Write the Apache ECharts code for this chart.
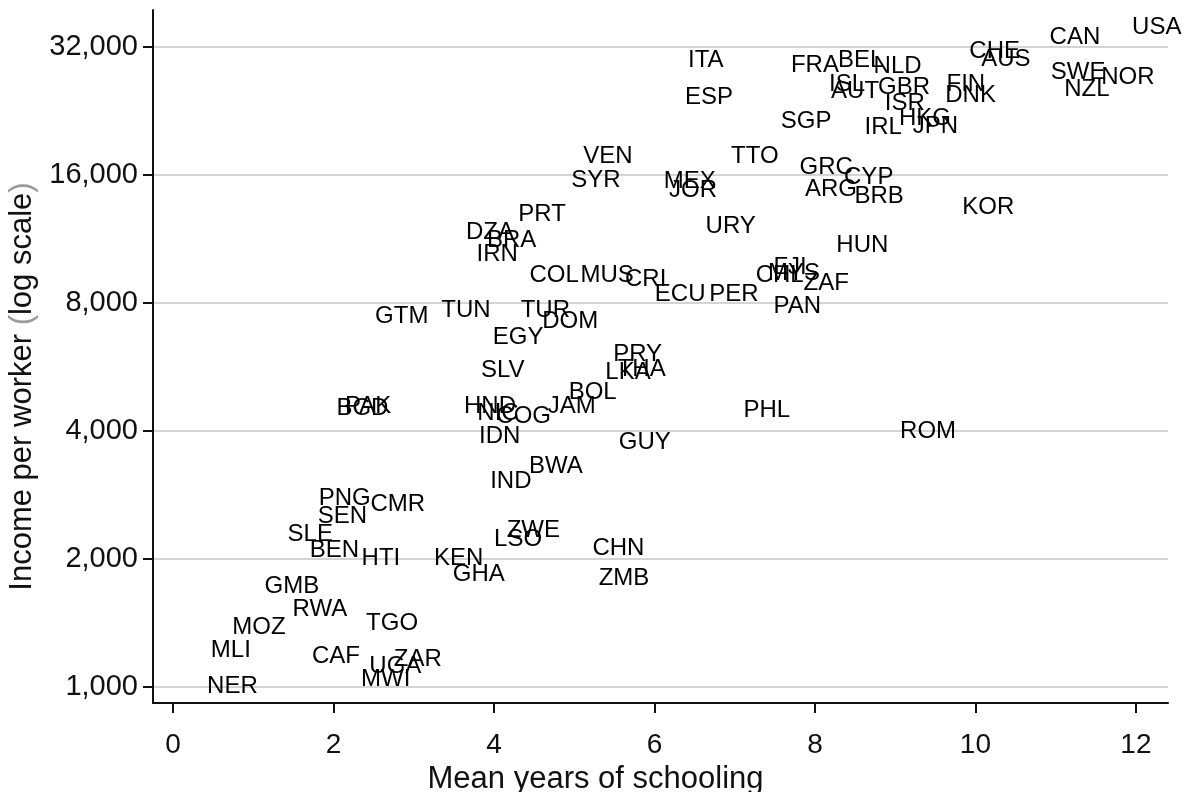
<!DOCTYPE html>
<html>
<head>
<meta charset="utf-8">
<script src="https://cdn.jsdelivr.net/npm/echarts@6/dist/echarts.min.js"></script>
<style>
html,body{margin:0;padding:0;background:#fff;}
#chart{width:1187px;height:792px;}
</style>
</head>
<body>
<div id="chart"></div>
<script>
// Country codes
const codes = ['USA','CAN','CHE','AUS','SWE','NOR','NZL','FIN','DNK','NLD','BEL','FRA','ITA','ESP','ISL','AUT','GBR','ISR','HKG','JPN','IRL','SGP','TTO','VEN','SYR','MEX','JOR','GRC','CYP','ARG','BRB','KOR','PRT','URY','DZA','BRA','IRN','HUN','COL','MUS','CRI','ECU','PER','CHL','MYS','FJI','ZAF','PAN','TUN','TUR','DOM','GTM','EGY','SLV','PRY','LKA','THA','BOL','JAM','HND','NIC','COG','IDN','PAK','BGD','GUY','PHL','ROM','BWA','IND','PNG','CMR','SEN','SLE','BEN','HTI','KEN','GHA','ZWE','LSO','CHN','ZMB','GMB','RWA','MOZ','TGO','MLI','CAF','ZAR','UGA','MWI','NER'];
// Mean years of schooling
const schooling = [12.26,11.24,10.24,10.38,11.28,11.90,11.39,9.88,9.94,9.03,8.57,8.00,6.64,6.68,8.40,8.50,9.11,9.12,9.37,9.50,8.85,7.89,7.25,5.42,5.27,6.44,6.48,8.14,8.67,8.20,8.80,10.16,4.60,6.95,3.95,4.22,4.04,8.59,4.75,5.41,5.89,6.32,6.99,7.56,7.74,7.69,8.14,7.78,3.65,4.64,4.95,2.85,4.30,4.11,5.79,5.67,5.84,5.23,4.97,3.95,4.05,4.37,4.07,2.43,2.36,5.88,7.40,9.41,4.77,4.21,2.14,2.80,2.11,1.71,2.01,2.59,3.56,3.81,4.49,4.30,5.55,5.62,1.48,1.83,1.07,2.73,0.72,2.03,3.05,2.77,2.65,0.74];
// Income per worker
const income = [35460,33590,31140,29820,27800,27080,25350,26180,24550,28720,29660,28880,29660,24290,26180,25200,25760,23520,21670,20750,20640,21430,17640,17640,15570,15480,14750,16620,15820,14830,14270,13450,12950,12080,11690,11250,10430,10950,9310,9310,9110,8400,8400,9310,9410,9720,8910,7870,7700,7700,7250,7420,6620,5540,6040,5480,5570,4940,4580,4580,4390,4320,3890,4580,4530,3750,4480,3980,3310,3050,2770,2690,2520,2280,2090,2010,2010,1840,2330,2220,2120,1805,1720,1520,1380,1410,1220,1180,1160,1120,1040,1005];
// Tick values
const xTicks = [0,2,4,6,8,10,12];
const yTicks = [1000,2000,4000,8000,16000,32000];

const points = codes.map((c,i)=>[schooling[i], income[i], c]);
const FONT = '"Liberation Sans", Arial, Helvetica, sans-serif';
const INK = '#111111';

const chart = echarts.init(document.getElementById('chart'), null, {renderer:'canvas'});
chart.setOption({
  backgroundColor:'#ffffff',
  animation:false,
  grid:{left:153, right:19, top:10, bottom:89, containLabel:false, outerBoundsMode:'none'},
  xAxis:{
    type:'value', min:-0.25, max:12.4,
    name:'Mean years of schooling', nameLocation:'middle', nameGap:53,
    nameTextStyle:{fontFamily:FONT, fontSize:31, color:INK, padding:[0,130,0,0]},
    axisLine:{show:true, onZero:false, lineStyle:{color:INK, width:2}},
    axisTick:{show:true, length:10, lineStyle:{color:INK, width:2}, customValues:xTicks},
    axisLabel:{fontFamily:FONT, fontSize:28, color:INK, margin:28, customValues:xTicks},
    splitLine:{show:false}
  },
  yAxis:{
    type:'log', logBase:2, min:917, max:39060,
    name:'{a|Income per worker }{b|(}{a|log scale}{b|)}', nameLocation:'middle', nameGap:111, nameRotate:90,
    nameTextStyle:{fontFamily:FONT, fontSize:31, color:INK, padding:[0,60,0,0],
      rich:{a:{fontFamily:FONT, fontSize:31, color:INK}, b:{fontFamily:FONT, fontSize:31, color:'#9a9a9a'}}},
    axisLine:{show:true, onZero:false, lineStyle:{color:INK, width:2}},
    axisTick:{show:true, length:10, lineStyle:{color:INK, width:2}, customValues:yTicks},
    axisLabel:{fontFamily:FONT, fontSize:29, color:INK, margin:15, customValues:yTicks,
      formatter:v=>Number(v).toLocaleString('en-US')},
    splitLine:{show:true, lineStyle:{color:'#d4d4d4', width:2}, customValues:yTicks}
  },
  series:[{
    type:'scatter',
    data:points,
    symbol:'circle', symbolSize:0,
    itemStyle:{color:'#000000', opacity:1},
    label:{show:true, position:'inside', formatter:p=>p.data[2], opacity:1,
      fontFamily:FONT, fontSize:24, color:'#000000', textBorderWidth:0},
    emphasis:{disabled:true}
  }]
});
</script>
</body>
</html>
